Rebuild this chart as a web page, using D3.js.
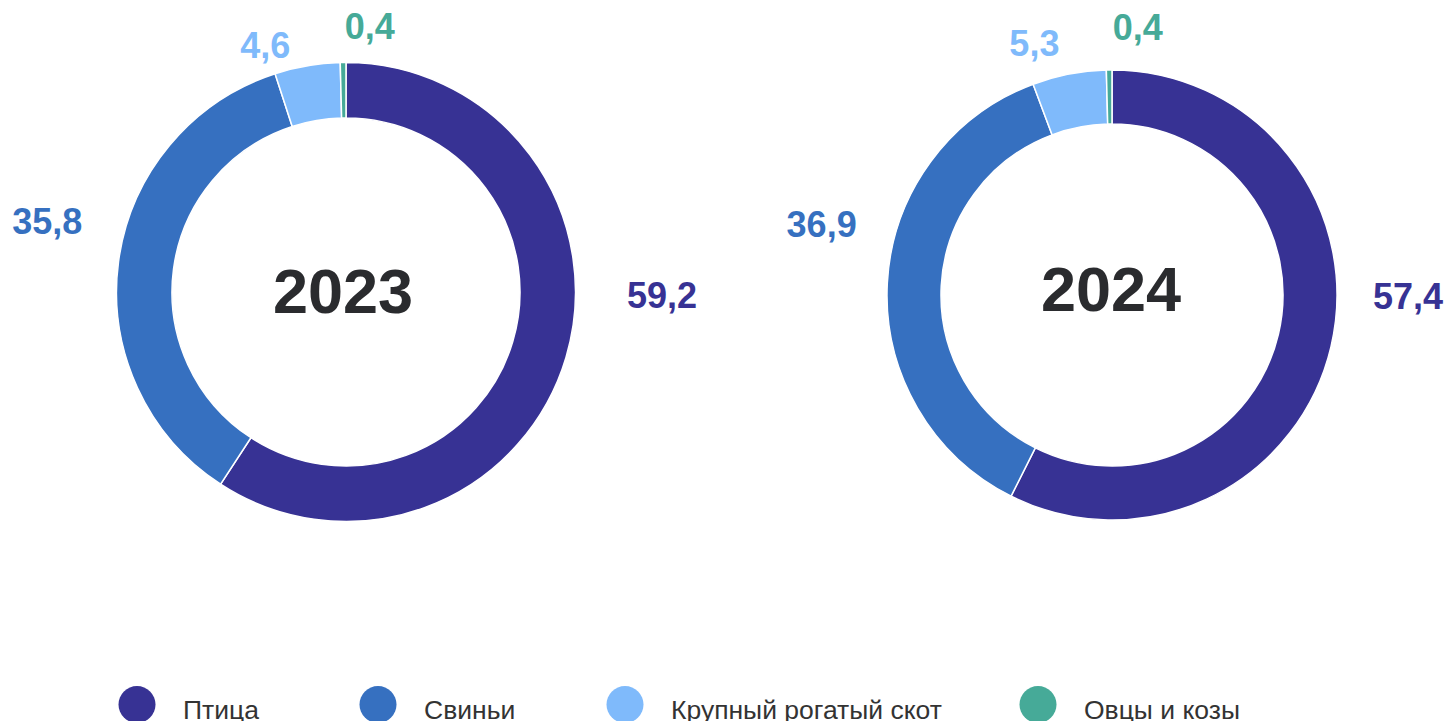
<!DOCTYPE html>
<html>
<head>
<meta charset="utf-8">
<script src="https://cdn.jsdelivr.net/npm/d3@7"></script>
<style>
  body { margin: 0; background: #fff; overflow: hidden; }
  text { font-family: "Liberation Sans", Arial, sans-serif; }
</style>
</head>
<body>
<script>
// data
var categories = ["Птица", "Свиньи", "Крупный рогатый скот", "Овцы и козы"];
var colors = ["#373294", "#3670c0", "#7fbafb", "#46aa98"];
var years = ["2023", "2024"];
var values2023 = [59.2, 35.8, 4.6, 0.4];
var values2024 = [57.4, 36.9, 5.3, 0.4];

// layout for each donut (centre, radii, label angle/distance)
var donuts = [
  {year: years[0], values: values2023, cx: 346, cy: 292, r: 229.5, ri: 174, ty: 21, tx: -3,
   labAng: [90.5, 283.3, 341.9, 5.1], labDist: [316, 307, 260, 267]},
  {year: years[1], values: values2024, cx: 1112, cy: 295, r: 225, ri: 171, ty: 16, tx: -1,
   labAng: [90.1, 283.8, 342.9, 5.5], labDist: [296, 299, 264, 269]}
];
var legendX = [137, 378, 625, 1038];

var w = 1450, h = 721;
var svg = d3.select("body").append("svg")
  .attr("width", w).attr("height", h);

var pie = d3.pie().sort(null).value(function(d){ return d; });
var fmt = function(v){ return d3.format(".1f")(v).replace(".", ","); };

donuts.forEach(function(dn){
  var g = svg.append("g").attr("transform", "translate(" + dn.cx + "," + dn.cy + ")");
  var arc = d3.arc().innerRadius(dn.ri).outerRadius(dn.r);

  g.selectAll("path.slice")
    .data(pie(dn.values))
    .enter().append("path")
    .attr("class", "slice")
    .attr("d", arc)
    .attr("fill", function(d, i){ return colors[i]; })
    .attr("stroke", "#fff")
    .attr("stroke-width", 1.5);

  g.append("text")
    .attr("x", dn.tx).attr("y", dn.ty)
    .attr("text-anchor", "middle")
    .attr("font-size", 63).attr("font-weight", "bold")
    .attr("fill", "#2a2b2e")
    .text(dn.year);

  // value labels
  g.selectAll("text.lab")
    .data(dn.values)
    .enter().append("text")
    .attr("class", "lab")
    .attr("x", function(d, i){ return dn.labDist[i] * Math.sin(dn.labAng[i] * Math.PI / 180); })
    .attr("y", function(d, i){ return -dn.labDist[i] * Math.cos(dn.labAng[i] * Math.PI / 180) + 13; })
    .attr("text-anchor", "middle")
    .attr("font-size", 36).attr("font-weight", "bold")
    .attr("fill", function(d, i){ return colors[i]; })
    .text(function(d){ return fmt(d); });
});

// legend
var leg = svg.selectAll("g.leg")
  .data(categories)
  .enter().append("g")
  .attr("class", "leg")
  .attr("transform", function(d, i){ return "translate(" + legendX[i] + ",704.5)"; });

leg.append("circle")
  .attr("r", 18.5)
  .attr("fill", function(d, i){ return colors[i]; });

leg.append("text")
  .attr("x", 46).attr("y", 14)
  .attr("font-size", 26.5)
  .attr("fill", "#333")
  .text(function(d){ return d; });
</script>
</body>
</html>
